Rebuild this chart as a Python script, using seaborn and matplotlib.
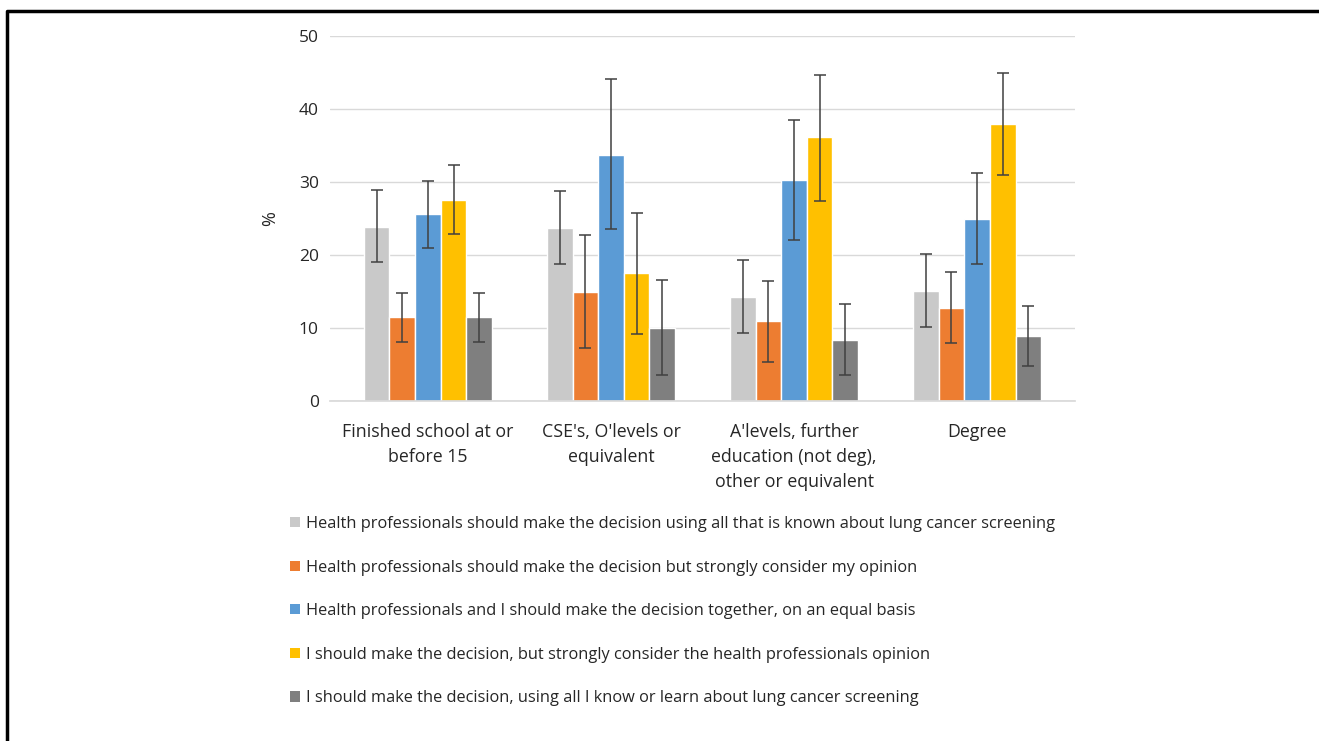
import numpy as np
import pandas as pd
import matplotlib.pyplot as plt
import seaborn as sns
from matplotlib.patches import Patch
from matplotlib.lines import Line2D

# Education groups (x categories)
groups = ["Finished school at or\nbefore 15", "CSE's, O'levels or\nequivalent",
          "A'levels, further\neducation (not deg),\nother or equivalent", "Degree"]

# Decision-making preference (hue)
prefs = [
    "Health professionals should make the decision using all that is known about lung cancer screening",
    "Health professionals should make the decision but strongly consider my opinion",
    "Health professionals and I should make the decision together, on an equal basis",
    "I should make the decision, but strongly consider the health professionals opinion",
    "I should make the decision, using all I know or learn about lung cancer screening",
]
colors = ["#C9C9C9", "#ED7D31", "#5B9BD5", "#FFC000", "#7F7F7F"]

# % per preference, one value per education group
pct = [
    [23.9, 23.7, 14.2, 15.1],
    [11.5, 15.0, 10.9, 12.8],
    [25.6, 33.7, 30.3, 25.0],
    [27.5, 17.5, 36.1, 37.9],
    [11.5, 10.0, 8.4, 8.9],
]
# 95% CI bounds
ci_low = [
    [19.0, 18.8, 9.3, 10.1],
    [8.1, 7.2, 5.3, 7.9],
    [21.0, 23.5, 22.1, 18.8],
    [22.9, 9.2, 27.4, 30.9],
    [8.1, 3.6, 3.5, 4.8],
]
ci_high = [
    [28.9, 28.8, 19.3, 20.1],
    [14.8, 22.8, 16.5, 17.7],
    [30.2, 44.1, 38.5, 31.3],
    [32.3, 25.8, 44.7, 45.0],
    [14.8, 16.6, 13.3, 13.0],
]

rows = []
for i, p in enumerate(prefs):
    for j, g in enumerate(groups):
        rows.append({"group": g, "pref": p, "pct": pct[i][j],
                     "lo": ci_low[i][j], "hi": ci_high[i][j]})
df = pd.DataFrame(rows)

sns.set_theme(style="white")
plt.rcParams['font.family'] = ['Open Sans', 'DejaVu Sans']

fig = plt.figure(figsize=(13.19, 7.41), dpi=100)
ax = fig.add_axes([330 / 1319, 1 - 401 / 741, 745 / 1319, 365 / 741])

sns.barplot(data=df, x="group", y="pct", hue="pref", hue_order=prefs,
            palette=colors, width=0.7, gap=0, saturation=1, errorbar=None,
            legend=False, ax=ax)

# asymmetric error bars on each bar
bar_conts = list(ax.containers)
for i, cont in enumerate(bar_conts):
    xs = [b.get_x() + b.get_width() / 2 for b in cont]
    m = np.array(pct[i])
    yerr = [m - np.array(ci_low[i]), np.array(ci_high[i]) - m]
    ax.errorbar(xs, m, yerr=yerr, fmt="none", ecolor="#404040", elinewidth=1.1,
                capsize=4, capthick=1.1, zorder=5)

ax.set_ylim(0, 50)
ax.set_yticks(range(0, 51, 10))
ax.yaxis.grid(True, color="#D9D9D9", linewidth=1)
ax.set_axisbelow(True)
for s in ["top", "right", "left"]:
    ax.spines[s].set_visible(False)
ax.spines["bottom"].set_color("#D9D9D9")
ax.tick_params(axis="y", length=0, labelsize=12.5, colors="#262626", pad=8)
ax.tick_params(axis="x", length=0, labelsize=12.8, colors="#262626", pad=16)
for t in ax.get_xticklabels():
    t.set_linespacing(1.5)
ax.set_xlabel("")
ax.set_ylabel("%", fontsize=13, color="#262626", labelpad=14)

# legend below the chart
handles = [Patch(facecolor=c, edgecolor="none") for c in colors]
fig.legend(handles, prefs, loc="upper left", bbox_to_anchor=(290 / 1319, 1 - 516 / 741),
           frameon=False, fontsize=11.8, labelcolor="#262626",
           handlelength=0.6, handleheight=0.6, handletextpad=0.4, labelspacing=1.68,
           borderaxespad=0, borderpad=0)

# cropped frame around the figure (top and left edges)
fig.add_artist(Line2D([7 / 1319, 7 / 1319, 1], [0, 1 - 11 / 741, 1 - 11 / 741],
                      transform=fig.transFigure, color="black", linewidth=2.5))

fig.savefig("out.png", dpi=100)
